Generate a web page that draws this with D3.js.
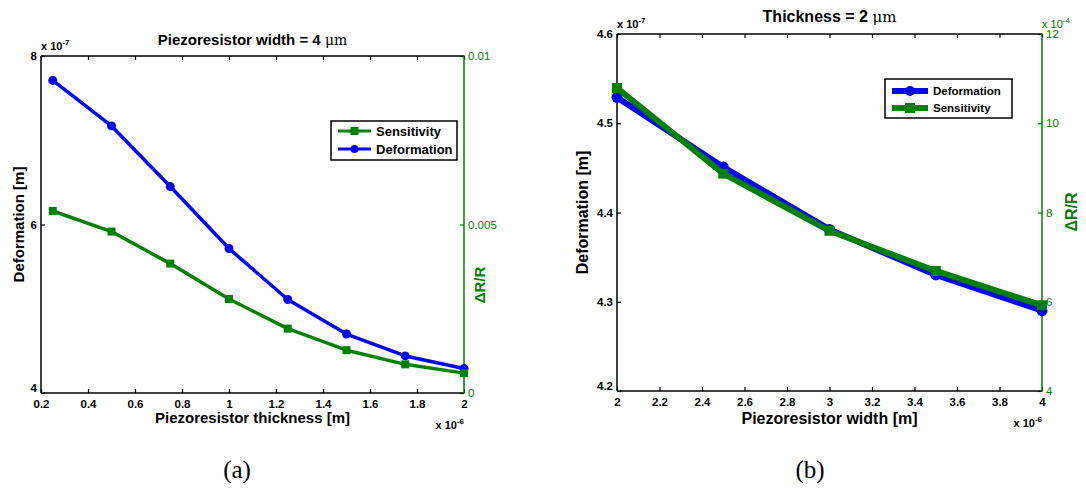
<!DOCTYPE html>
<html>
<head>
<meta charset="utf-8">
<script src="https://cdn.jsdelivr.net/npm/d3@7"></script>
<style>
  body { margin: 0; background: #fff; }
  text { font-family: "Liberation Sans", Arial, sans-serif; }
</style>
</head>
<body>
<script>
// -----------------------------------------//
//                 Data
// -----------------------------------------//

// (a) width fixed at 4 um, thickness swept
var thicknessA   = [0.25, 0.5, 0.75, 1, 1.25, 1.5, 1.75, 2];              // x 1e-6 m
var deformationA = [7.71, 7.17, 6.45, 5.715, 5.11, 4.70, 4.44, 4.29];     // x 1e-7 m
var sensitivityA = [0.0054, 0.00479, 0.00384, 0.00279, 0.00191, 0.00127, 0.00085, 0.00059];
var xTicksA  = [0.2, 0.4, 0.6, 0.8, 1, 1.2, 1.4, 1.6, 1.8, 2];
var yTicksA  = [4, 6, 8];
var y2TicksA = [0, 0.005, 0.01];

// (b) thickness fixed at 2 um, width swept
var widthB       = [2, 2.5, 3, 3.5, 4];                                   // x 1e-6 m
var deformationB = [4.529, 4.451, 4.381, 4.330, 4.290];                   // x 1e-7 m
var sensitivityB = [10.79, 8.87, 7.59, 6.69, 5.92];                       // x 1e-4
var xTicksB  = [2, 2.2, 2.4, 2.6, 2.8, 3, 3.2, 3.4, 3.6, 3.8, 4];
var yTicksB  = [4.2, 4.3, 4.4, 4.5, 4.6];
var y2TicksB = [4, 6, 8, 10, 12];

var BLUE = "#0000ff";
var GREEN = "#008000";

var svg = d3.select("body").append("svg")
  .attr("width", 1086)
  .attr("height", 489);

function fmt(d) { return String(+d.toFixed(4)); }

// superscript helper: "x 10" + exponent
function expLabel(g, xPos, yPos, exp, anchor, color, weight) {
  var t = g.append("text")
    .attr("x", xPos).attr("y", yPos)
    .attr("text-anchor", anchor)
    .style("font-size", "11px")
    .style("font-weight", weight)
    .attr("fill", color);
  t.append("tspan").text("x 10");
  t.append("tspan").attr("dy", -5).style("font-size", "8px").text(exp);
}

// -----------------------------------------//
//            Build one panel
// -----------------------------------------//
function drawPanel(p) {
  var g = svg.append("g");

  var x  = d3.scaleLinear().domain(p.xDomain).range([p.left, p.right]);
  var y  = d3.scaleLinear().domain(p.yDomain).range([p.bottom, p.top]);
  var y2 = d3.scaleLinear().domain(p.y2Domain).range([p.bottom, p.top]);

  // bottom axis
  var bx = g.append("g")
    .attr("transform", `translate(0, ${p.bottom})`)
    .call(d3.axisBottom(x).tickValues(p.xTicks).tickSizeInner(-4).tickSizeOuter(0)
      .tickPadding(7).tickFormat(fmt));
  // top axis (ticks only)
  var tx = g.append("g")
    .attr("transform", `translate(0, ${p.top})`)
    .call(d3.axisTop(x).tickValues(p.xTicks).tickSizeInner(-4).tickSizeOuter(0).tickFormat(""));
  // left axis
  var ly = g.append("g")
    .attr("transform", `translate(${p.left}, 0)`)
    .call(d3.axisLeft(y).tickValues(p.yTicks).tickSizeInner(-4).tickSizeOuter(0)
      .tickPadding(4).tickFormat(fmt));
  // right axis
  var ry = g.append("g")
    .attr("transform", `translate(${p.right}, 0)`)
    .call(d3.axisRight(y2).tickValues(p.y2Ticks).tickSizeInner(-4).tickSizeOuter(0)
      .tickPadding(4).tickFormat(fmt));

  [bx, tx, ly, ry].forEach(function(a) {
    a.select(".domain").remove();
    a.attr("font-family", null).attr("font-size", null);
  });

  [bx, ly].forEach(function(a) {
    a.selectAll("line").attr("stroke", "#000").attr("stroke-width", 1.2);
    a.selectAll("text").attr("fill", "#000")
      .style("font-size", p.tickFont + "px").style("font-weight", "bold");
  });
  tx.selectAll("line").attr("stroke", "#000").attr("stroke-width", 1.2);
  ry.selectAll("line").attr("stroke", GREEN).attr("stroke-width", 1.2);
  ry.selectAll("text").attr("fill", GREEN)
    .style("font-size", "11.5px").style("font-weight", "normal");

  // lowest left label sits a bit above the corner, as in matlab
  ly.selectAll(".tick text").filter(function(d) { return d === p.yDomain[0]; })
    .attr("dy", "-0.1em");

  // frame
  g.append("line").attr("x1", p.left).attr("x2", p.right).attr("y1", p.top).attr("y2", p.top)
    .attr("stroke", "#000").attr("stroke-width", 1.5);
  g.append("line").attr("x1", p.left).attr("x2", p.right).attr("y1", p.bottom).attr("y2", p.bottom)
    .attr("stroke", "#000").attr("stroke-width", 1.5);
  g.append("line").attr("x1", p.left).attr("x2", p.left).attr("y1", p.top).attr("y2", p.bottom)
    .attr("stroke", "#000").attr("stroke-width", 1.5);
  g.append("line").attr("x1", p.right).attr("x2", p.right).attr("y1", p.top - 0.75).attr("y2", p.bottom + 0.75)
    .attr("stroke", GREEN).attr("stroke-width", 1.5);

  // series
  var defData = d3.zip(p.xs, p.deformation);
  var senData = d3.zip(p.xs, p.sensitivity);

  var defLine = d3.line().x(d => x(d[0])).y(d => y(d[1]));
  var senLine = d3.line().x(d => x(d[0])).y(d => y2(d[1]));

  g.append("path").datum(defData).attr("d", defLine)
    .attr("fill", "none").attr("stroke", BLUE).attr("stroke-width", p.lineW)
    .attr("stroke-linejoin", "round");
  g.selectAll(".defdot").data(defData).enter().append("circle")
    .attr("cx", d => x(d[0])).attr("cy", d => y(d[1]))
    .attr("r", p.dotR).attr("fill", BLUE);

  g.append("path").datum(senData).attr("d", senLine)
    .attr("fill", "none").attr("stroke", GREEN).attr("stroke-width", p.lineW)
    .attr("stroke-linejoin", "round");
  g.selectAll(".sendot").data(senData).enter().append("rect")
    .attr("x", d => x(d[0]) - p.sq / 2).attr("y", d => y2(d[1]) - p.sq / 2)
    .attr("width", p.sq).attr("height", p.sq).attr("fill", GREEN);

  // title
  var title = g.append("text")
    .attr("x", (p.left + p.right) / 2).attr("y", p.titleY)
    .attr("text-anchor", "middle")
    .style("font-size", p.labelFont + "px").style("font-weight", "bold");
  title.append("tspan").text(p.title + " ");
  title.append("tspan").style("font-weight", "normal").style("font-family", "'DejaVu Serif', serif")
    .style("font-size", (p.labelFont - 1) + "px").text("\u03bcm");

  // axis labels
  g.append("text")
    .attr("x", (p.left + p.right) / 2).attr("y", p.xLabelY)
    .attr("text-anchor", "middle")
    .style("font-size", p.labelFont + "px").style("font-weight", "bold")
    .text(p.xLabel);

  g.append("text")
    .attr("transform", `translate(${p.yLabelX}, ${(p.top + p.bottom) / 2}) rotate(-90)`)
    .attr("text-anchor", "middle")
    .style("font-size", p.labelFont + "px").style("font-weight", "bold")
    .text("Deformation [m]");

  g.append("text")
    .attr("transform", `translate(${p.y2LabelX}, ${p.y2LabelY}) rotate(-90)`)
    .attr("text-anchor", "middle")
    .attr("fill", GREEN)
    .style("font-size", p.labelFont + "px").style("font-weight", "bold")
    .text("\u0394R/R");

  // exponent labels
  expLabel(g, p.left, p.top - 6, "-7", "start", "#000", "bold");
  expLabel(g, p.right, p.bottom + 36, "-6", "end", "#000", "bold");
  if (p.y2Exp) expLabel(g, p.right, p.top - 6, p.y2Exp, "start", GREEN, "normal");

  // legend
  var lg = g.append("g").attr("transform", `translate(${p.legend.x}, ${p.legend.y})`);
  lg.append("rect").attr("width", p.legend.w).attr("height", p.legend.h)
    .attr("fill", "#fff").attr("stroke", "#000").attr("stroke-width", 1.5);
  p.legend.items.forEach(function(it, i) {
    var cy = p.legend.rowY[i];
    var col = it === "Deformation" ? BLUE : GREEN;
    lg.append("line").attr("x1", 7).attr("x2", p.legend.lineLen + 7)
      .attr("y1", cy).attr("y2", cy)
      .attr("stroke", col).attr("stroke-width", p.legend.lineW);
    var mx = 7 + p.legend.lineLen / 2;
    if (it === "Deformation") {
      lg.append("circle").attr("cx", mx).attr("cy", cy).attr("r", p.legend.mark / 2).attr("fill", col);
    } else {
      lg.append("rect").attr("x", mx - p.legend.mark / 2).attr("y", cy - p.legend.mark / 2)
        .attr("width", p.legend.mark).attr("height", p.legend.mark).attr("fill", col);
    }
    lg.append("text").attr("x", p.legend.lineLen + 12).attr("y", cy).attr("dy", "0.36em")
      .style("font-size", p.legend.font + "px").style("font-weight", "bold")
      .text(it);
  });

  // caption
  g.append("text")
    .attr("x", p.capX).attr("y", 478)
    .attr("text-anchor", "middle")
    .style("font-family", "'Liberation Serif', 'DejaVu Serif', serif")
    .style("font-size", "25px")
    .text(p.caption);
}

drawPanel({
  left: 41, right: 464, top: 56, bottom: 393,
  xDomain: [0.2, 2], yDomain: [4, 8], y2Domain: [0, 0.01],
  xTicks: xTicksA, yTicks: yTicksA, y2Ticks: y2TicksA,
  xs: thicknessA, deformation: deformationA, sensitivity: sensitivityA,
  lineW: 3.5, dotR: 4.5, sq: 8,
  tickFont: 11.5, labelFont: 15,
  title: "Piezoresistor width = 4", titleY: 45,
  xLabel: "Piezoresistor thickness [m]", xLabelY: 423,
  yLabelX: 24, y2LabelX: 485, y2LabelY: 285,
  y2Exp: null,
  legend: { x: 331, y: 121, w: 126, h: 39, rowY: [10, 28], items: ["Sensitivity", "Deformation"],
            lineLen: 33, lineW: 3, mark: 8, font: 13 },
  caption: "(a)", capX: 237
});

drawPanel({
  left: 617, right: 1042, top: 34, bottom: 391,
  xDomain: [2, 4], yDomain: [4.2, 4.6], y2Domain: [4, 12],
  xTicks: xTicksB, yTicks: yTicksB, y2Ticks: y2TicksB,
  xs: widthB, deformation: deformationB, sensitivity: sensitivityB,
  lineW: 6, dotR: 5.5, sq: 10,
  tickFont: 11.5, labelFont: 16,
  title: "Thickness = 2", titleY: 22,
  xLabel: "Piezoresistor width [m]", xLabelY: 424,
  yLabelX: 588, y2LabelX: 1077, y2LabelY: 212,
  y2Exp: "-4",
  legend: { x: 885, y: 79, w: 127, h: 39, rowY: [12, 29], items: ["Deformation", "Sensitivity"],
            lineLen: 36, lineW: 6, mark: 10, font: 11.5 },
  caption: "(b)", capX: 810
});
</script>
</body>
</html>
